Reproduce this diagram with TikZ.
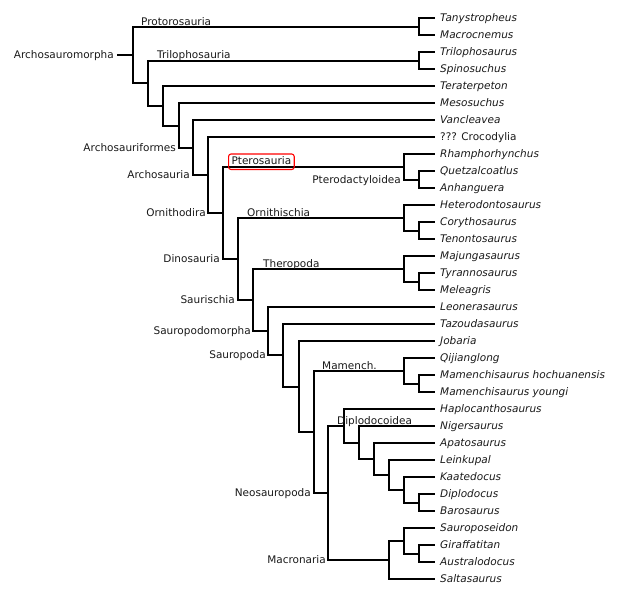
\documentclass[tikz,border=0pt]{standalone}
\usepackage{fontspec}
\setmainfont{DejaVu Sans}
\begin{document}
\begin{tikzpicture}[x=1pt,y=-1pt,
  every node/.style={font=\fontsize{10.5}{12}\selectfont, text=black!90, inner sep=0pt, text height=10pt, text depth=2.5pt},
  leaf/.style={anchor=west, inner xsep=5pt, font=\fontsize{10.5}{12}\selectfont\itshape},
  plainleaf/.style={anchor=west, inner xsep=5pt},
  above label/.style={anchor=base west},
  left label/.style={anchor=east},
  branch/.style={line width=2pt, black}]
\useasboundingbox (0,0) rectangle (620,598);

% leaves
\node[leaf] (tany)   at (435,18)  {Tanystropheus};
\node[leaf] (macro)  at (435,35)  {Macrocnemus};
\node[leaf] (trilo)  at (435,52)  {Trilophosaurus};
\node[leaf] (spino)  at (435,69)  {Spinosuchus};
\node[leaf] (terat)  at (435,86)  {Teraterpeton};
\node[leaf] (meso)   at (435,103) {Mesosuchus};
\node[leaf] (vanc)   at (435,120) {Vancleavea};
\node[plainleaf] (croc) at (435,137) {??? Crocodylia};
\node[leaf] (rham)   at (435,154) {Rhamphorhynchus};
\node[leaf] (quet)   at (435,171) {Quetzalcoatlus};
\node[leaf] (anha)   at (435,188) {Anhanguera};
\node[leaf] (hetero) at (435,205) {Heterodontosaurus};
\node[leaf] (cory)   at (435,222) {Corythosaurus};
\node[leaf] (tenon)  at (435,239) {Tenontosaurus};
\node[leaf] (majun)  at (435,256) {Majungasaurus};
\node[leaf] (tyra)   at (435,273) {Tyrannosaurus};
\node[leaf] (mele)   at (435,290) {Meleagris};
\node[leaf] (leon)   at (435,307) {Leonerasaurus};
\node[leaf] (tazo)   at (435,324) {Tazoudasaurus};
\node[leaf] (joba)   at (435,341) {Jobaria};
\node[leaf] (qiji)   at (435,358) {Qijianglong};
\node[leaf] (mhoch)  at (435,375) {Mamenchisaurus hochuanensis};
\node[leaf] (myoung) at (435,392) {Mamenchisaurus youngi};
\node[leaf] (haplo)  at (435,409) {Haplocanthosaurus};
\node[leaf] (niger)  at (435,426) {Nigersaurus};
\node[leaf] (apato)  at (435,443) {Apatosaurus};
\node[leaf] (leink)  at (435,460) {Leinkupal};
\node[leaf] (kaat)   at (435,477) {Kaatedocus};
\node[leaf] (diplo)  at (435,494) {Diplodocus};
\node[leaf] (baro)   at (435,511) {Barosaurus};
\node[leaf] (sauropo) at (435,528) {Sauroposeidon};
\node[leaf] (giraf)  at (435,545) {Giraffatitan};
\node[leaf] (austr)  at (435,562) {Australodocus};
\node[leaf] (salta)  at (435,579) {Saltasaurus};

% internal nodes (x of vertical line, y of midpoint)
\coordinate (cproto) at (419,27);
\coordinate (ctrilo) at (419,61);
\coordinate (cqa)    at (419,180);
\coordinate (cct)    at (419,231);
\coordinate (ctm)    at (419,282);
\coordinate (cmm)    at (419,384);
\coordinate (cdb)    at (419,503);
\coordinate (cga)    at (419,554);
\coordinate (pter)   at (404,167);
\coordinate (ornis)  at (404,218);
\coordinate (thero)  at (404,269);
\coordinate (mamen)  at (404,371);
\coordinate (nkaat)  at (404,490);
\coordinate (nleink) at (389,475);
\coordinate (napato) at (374,459);
\coordinate (nniger) at (359,443);
\coordinate (diplod) at (344,426);
\coordinate (nsaupo) at (404,541);
\coordinate (macron) at (389,560);
\coordinate (neosau) at (328,493);
\coordinate (nmam)   at (314,432);
\coordinate (njoba)  at (299,387);
\coordinate (sauropoda) at (283,355);
\coordinate (sauropodo) at (268,331);
\coordinate (sauris) at (253,300);
\coordinate (dino)   at (238,259);
\coordinate (ornitho) at (223,213);
\coordinate (archos) at (208,175);
\coordinate (archif) at (193,148);
\coordinate (n3)     at (179,126);
\coordinate (n2)     at (163,106);
\coordinate (n1)     at (148,83);
\coordinate (root)   at (133,55);
\coordinate (rootstub) at (117,55);

% branches
\draw[branch] (rootstub) -- (root);
\draw[branch] (cproto) |- (tany.west) (cproto) |- (macro.west);
\draw[branch] (ctrilo) |- (trilo.west) (ctrilo) |- (spino.west);
\draw[branch] (root) |- (cproto) (root) |- (n1);
\draw[branch] (n1) |- (ctrilo) (n1) |- (n2);
\draw[branch] (n2) |- (terat.west) (n2) |- (n3);
\draw[branch] (n3) |- (meso.west) (n3) |- (archif);
\draw[branch] (archif) |- (vanc.west) (archif) |- (archos);
\draw[branch] (archos) |- (croc.west) (archos) |- (ornitho);
\draw[branch] (ornitho) |- (pter) (ornitho) |- (dino);
\draw[branch] (pter) |- (rham.west) (pter) |- (cqa);
\draw[branch] (cqa) |- (quet.west) (cqa) |- (anha.west);
\draw[branch] (dino) |- (ornis) (dino) |- (sauris);
\draw[branch] (ornis) |- (hetero.west) (ornis) |- (cct);
\draw[branch] (cct) |- (cory.west) (cct) |- (tenon.west);
\draw[branch] (sauris) |- (thero) (sauris) |- (sauropodo);
\draw[branch] (thero) |- (majun.west) (thero) |- (ctm);
\draw[branch] (ctm) |- (tyra.west) (ctm) |- (mele.west);
\draw[branch] (sauropodo) |- (leon.west) (sauropodo) |- (sauropoda);
\draw[branch] (sauropoda) |- (tazo.west) (sauropoda) |- (njoba);
\draw[branch] (njoba) |- (joba.west) (njoba) |- (nmam);
\draw[branch] (nmam) |- (mamen) (nmam) |- (neosau);
\draw[branch] (mamen) |- (qiji.west) (mamen) |- (cmm);
\draw[branch] (cmm) |- (mhoch.west) (cmm) |- (myoung.west);
\draw[branch] (neosau) |- (diplod) (neosau) |- (macron);
\draw[branch] (diplod) |- (haplo.west) (diplod) |- (nniger);
\draw[branch] (nniger) |- (niger.west) (nniger) |- (napato);
\draw[branch] (napato) |- (apato.west) (napato) |- (nleink);
\draw[branch] (nleink) |- (leink.west) (nleink) |- (nkaat);
\draw[branch] (nkaat) |- (kaat.west) (nkaat) |- (cdb);
\draw[branch] (cdb) |- (diplo.west) (cdb) |- (baro.west);
\draw[branch] (macron) |- (nsaupo) (macron) |- (salta.west);
\draw[branch] (nsaupo) |- (sauropo.west) (nsaupo) |- (cga);
\draw[branch] (cga) |- (giraf.west) (cga) |- (austr.west);

% clade labels
\node[left label] (lArchosauromorpha) at ([xshift=-3pt]rootstub) {Archosauromorpha};
\node[above label] (lProto) at (141,25) {Protorosauria};
\node[above label] (lTrilo) at (157,58.5) {Trilophosauria};
\node[left label] (lArchif) at (176,148) {Archosauriformes};
\node[left label] (lArchos) at (190,175) {Archosauria};
\node[anchor=base west, draw=red, line width=1.1pt, rounded corners=2.5pt, inner xsep=3pt, inner ysep=2.5pt, text height=8pt] (lPtero) at (228,164.5) {Pterosauria};
\node[left label] (lPterod) at (401,180) {Pterodactyloidea};
\node[left label] (lOrnitho) at (206,213) {Ornithodira};
\node[above label] (lOrnis) at (247,216) {Ornithischia};
\node[left label] (lDino) at (220,259) {Dinosauria};
\node[above label] (lThero) at (263,267) {Theropoda};
\node[left label] (lSauris) at (235,300) {Saurischia};
\node[left label] (lSauropodo) at (251,331) {Sauropodomorpha};
\node[left label] (lSauropoda) at (266,355) {Sauropoda};
\node[above label] (lMamen) at (322,369) {Mamench.};
\node[above label] (lDiplod) at (337,424) {Diplodocoidea};
\node[left label] (lNeo) at (311,493) {Neosauropoda};
\node[left label] (lMacron) at (326,560) {Macronaria};
\end{tikzpicture}
\end{document}
